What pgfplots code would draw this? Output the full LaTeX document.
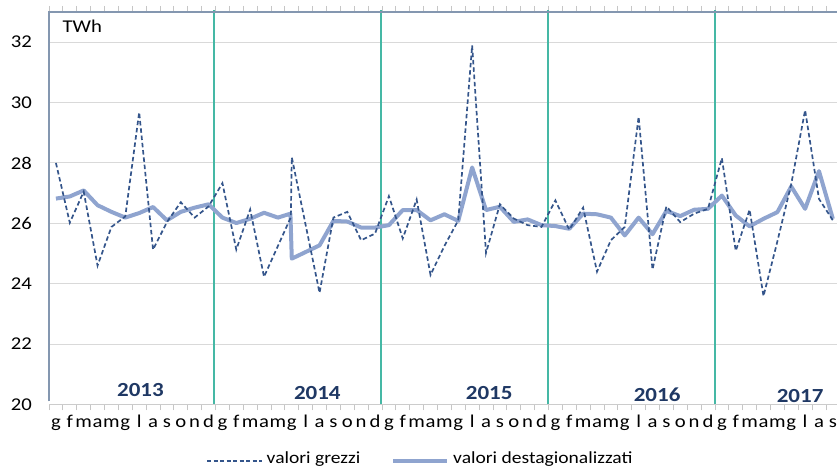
\documentclass[border=0pt]{standalone}
\usepackage{fontspec}
\setmainfont{Carlito}[FakeStretch=1.15]
\usepackage{pgfplots}
\pgfplotsset{compat=1.18}
\definecolor{grezzi}{HTML}{34558B}
\definecolor{destag}{HTML}{8FA4CF}
\definecolor{yearline}{HTML}{45B8A5}
\definecolor{gridc}{HTML}{D9D9D9}
\definecolor{framec}{HTML}{8497B0}
\definecolor{yearc}{HTML}{1F3864}
\newcommand{\fs}[1]{\fontsize{#1bp}{#1bp}\selectfont}
\begin{document}
\begin{tikzpicture}[x=1bp,y=1bp]
\begin{axis}[
  at={(49bp,63.5bp)}, anchor=south west,
  scale only axis, width=788bp, height=392.5bp,
  xmin=-0.5, xmax=56.3, ymin=20, ymax=33,
  ytick={20,22,...,32},
  ymajorgrids, grid style={gridc, line width=1bp},
  axis line style={draw=none},
  xtick={0,...,56},
  xticklabels={g,f,m,a,m,g,l,a,s,o,n,d,g,f,m,a,m,g,l,a,s,o,n,d,g,f,m,a,m,g,l,a,s,o,n,d,g,f,m,a,m,g,l,a,s,o,n,d,g,f,m,a,m,g,l,a,s},
  major tick length=0pt,
  extra x ticks={-0.5,0.5,...,55.5},
  extra x tick labels={},
  extra x tick style={major tick length=6bp, tick align=outside, tick style={gray!45, line width=0.8bp}, grid=none},
  xticklabel style={anchor=base, yshift=-23.5bp, inner sep=0pt, font=\fs{18}},
  yticklabel style={anchor=east, inner sep=0pt, xshift=-17bp, font=\fs{18}},
  /pgf/number format/assume math mode=true,
  clip=false,
  no markers,
]
\draw[yearline, line width=1.9bp] (axis cs:11.4,20) -- (axis cs:11.4,33.07);
\draw[yearline, line width=1.9bp] (axis cs:23.43,20) -- (axis cs:23.43,33.07);
\draw[yearline, line width=1.9bp] (axis cs:35.45,20) -- (axis cs:35.45,33.07);
\draw[yearline, line width=1.9bp] (axis cs:47.5,20) -- (axis cs:47.5,33.07);
\draw[gray!40, line width=1bp] (axis cs:-0.5,20) -- (axis cs:56.3,20);
\draw[framec, line width=1.2bp] (axis cs:-0.5,20.1) -- (axis cs:-0.5,33) -- (axis cs:56.3,33);

% valori destagionalizzati
\addplot[destag, line width=4bp, line join=round] coordinates {
(0,26.82) (1,26.89) (2,27.09) (3,26.60) (4,26.38) (5,26.19) (6,26.34) (7,26.54) (8,26.10) (9,26.38) (10,26.52) (11,26.63)
(12,26.19) (13,26.01) (14,26.15) (15,26.35) (16,26.19) (16.9,26.32) (17,24.83) (19,25.27) (20,26.08) (21,26.06) (22,25.86) (23,25.86)
(24,25.94) (25,26.44) (26,26.44) (27,26.10) (28,26.30) (29,26.08) (30,27.85) (31,26.44) (32,26.55) (33,26.05) (34,26.13) (35,25.94)
(36,25.91) (37,25.82) (38,26.32) (39,26.30) (40,26.19) (41,25.60) (42,26.19) (43,25.64) (44,26.41) (45,26.24) (46,26.45) (47,26.48)
(48,26.92) (49,26.26) (50,25.90) (51,26.15) (52,26.37) (53,27.22) (54,26.48) (55,27.73) (56,26.15)
};
% valori grezzi
\addplot[grezzi, line width=1.7bp, dash pattern=on 4.5bp off 2.8bp] coordinates {
(0,28.00) (1,26.02) (2,27.05) (3,24.60) (4,25.88) (5,26.23) (6,29.68) (7,25.13) (8,26.04) (9,26.70) (10,26.19) (11,26.56)
(12,27.33) (13,25.13) (14,26.46) (15,24.23) (16.93,26.20) (17,28.19) (19,23.70) (20,26.19) (21,26.38) (22,25.44) (23,25.66)
(24,26.90) (25,25.50) (26,26.79) (27,24.29) (28,25.25) (29,26.10) (30,31.89) (31,25.02) (32,26.63) (33,26.16) (34,25.94) (35,25.88)
(36,26.76) (37,25.79) (38,26.52) (39,24.40) (40,25.44) (41,25.88) (42,29.53) (43,24.47) (44,26.56) (45,26.04) (46,26.32) (47,26.48)
(48,28.16) (49,25.09) (50,26.45) (51,23.59) (52,25.40) (53,27.30) (54,29.75) (55,26.81) (56,26.10)
};

\node[anchor=base west, inner sep=0pt, font=\fs{18}] at (axis cs:0.47,32.32) {TWh};
\node[font=\bfseries\fs{20}, text=yearc] at (axis cs:6.09,20.48) {2013};
\node[font=\bfseries\fs{20}, text=yearc] at (axis cs:18.84,20.38) {2014};
\node[font=\bfseries\fs{20}, text=yearc] at (axis cs:31.23,20.38) {2015};
\node[font=\bfseries\fs{20}, text=yearc] at (axis cs:43.33,20.31) {2016};
\node[font=\bfseries\fs{20}, text=yearc] at (axis cs:53.64,20.28) {2017};
\end{axis}
% legend
\draw[grezzi, line width=1.5bp, dash pattern=on 4bp off 2.5bp] (207,7) -- (262,7);
\node[anchor=base west, inner sep=0pt, font=\fs{17}] at (266.5,4.2) {valori grezzi};
\draw[destag, line width=4bp] (393,7) -- (447,7);
\node[anchor=base west, inner sep=0pt, font=\fs{17}] at (453,4.2) {valori destagionalizzati};
\pgfresetboundingbox
\path (0,0) rectangle (837,468);
\end{tikzpicture}
\end{document}
